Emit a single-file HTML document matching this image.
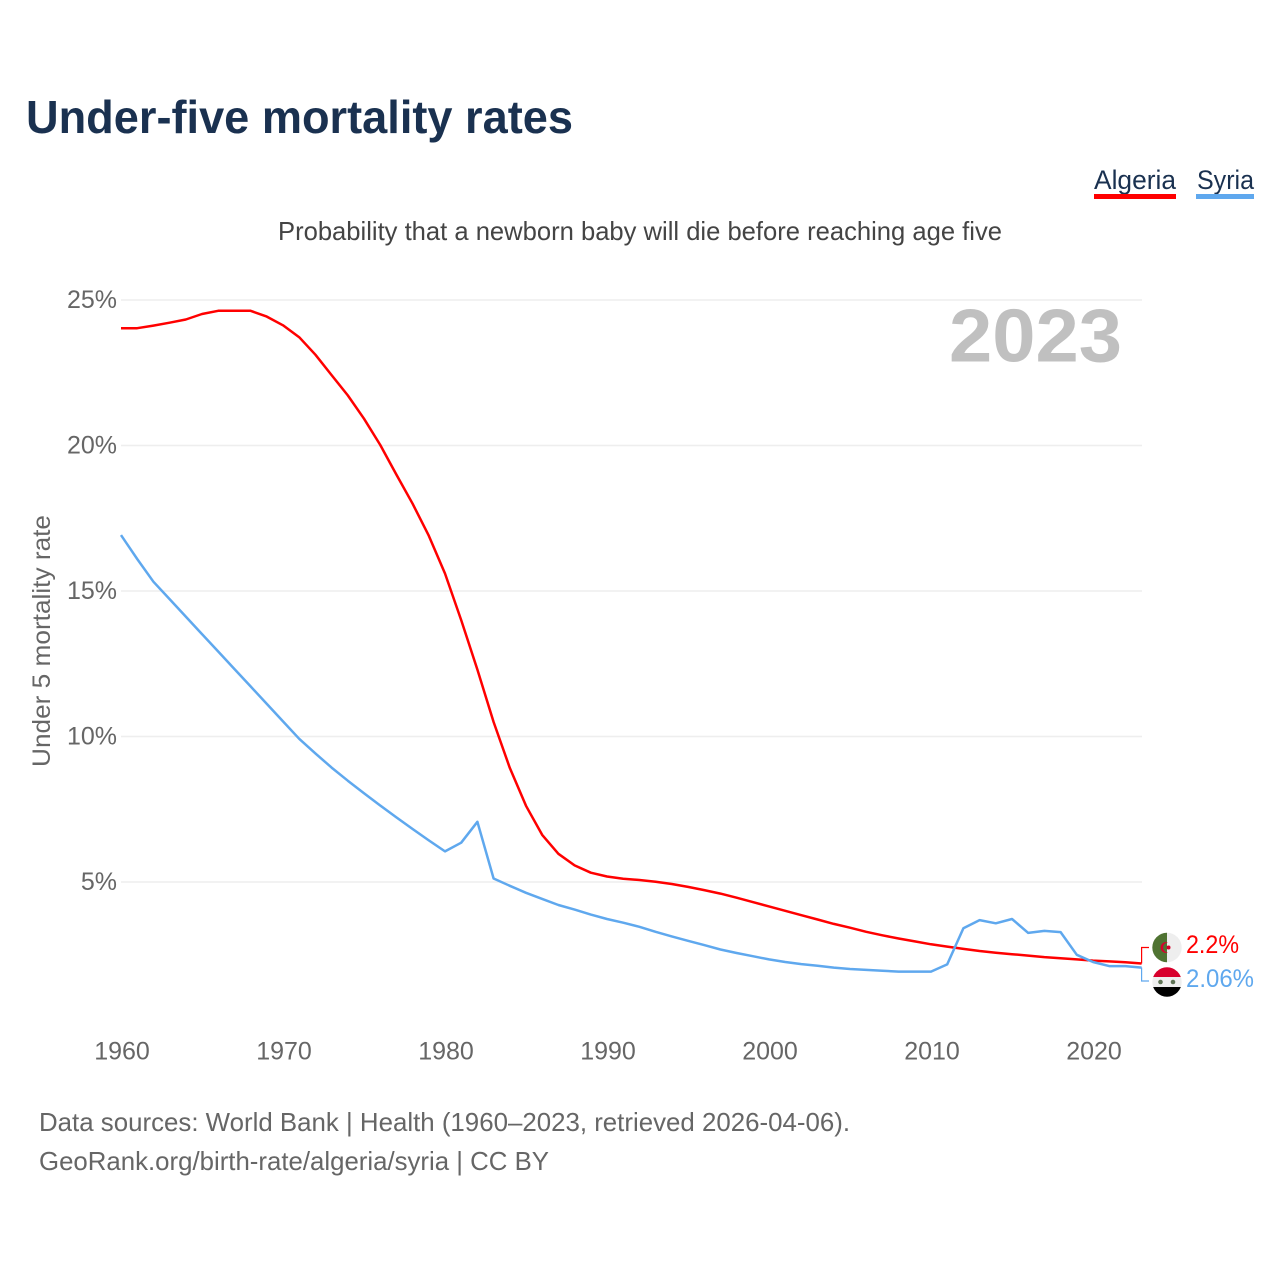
<!DOCTYPE html>
<html lang="en">
<head>
<meta charset="utf-8">
<title>Under-five mortality rates</title>
<style>
html,body{margin:0;padding:0;background:#fff}
svg{display:block}
text{font-family:"Liberation Sans",sans-serif}
</style>
</head>
<body>
<svg id="chart" xmlns="http://www.w3.org/2000/svg" width="1280" height="1280" viewBox="0 0 1280 1280">
  <rect width="1280" height="1280" fill="#fff"/>
  <text x="26" y="133" font-size="46" font-weight="700" fill="#1a3150" textLength="547" lengthAdjust="spacingAndGlyphs">Under-five mortality rates</text>
  <text x="1094" y="189" font-size="27" fill="#1a3150" textLength="82" lengthAdjust="spacingAndGlyphs">Algeria</text>
  <rect x="1094" y="194" width="82" height="5" fill="#ff0000"/>
  <text x="1197" y="189" font-size="27" fill="#1a3150" textLength="57" lengthAdjust="spacingAndGlyphs">Syria</text>
  <rect x="1196" y="194" width="58" height="5" fill="#5fa8ee"/>
  <text x="278" y="240" font-size="26" fill="#444" textLength="724" lengthAdjust="spacingAndGlyphs">Probability that a newborn baby will die before reaching age five</text>
  <g id="grid"></g>
  <text x="949" y="361.5" font-size="75" font-weight="700" fill="#c0c0c0" textLength="173" lengthAdjust="spacingAndGlyphs">2023</text>
  <g id="yticks"></g>
  <g id="xticks"></g>
  <text transform="translate(50,641) rotate(-90)" text-anchor="middle" font-size="25" fill="#666" textLength="252" lengthAdjust="spacingAndGlyphs">Under 5 mortality rate</text>
  <g id="series"></g>
  <g>
    <circle cx="1167" cy="947.5" r="14.7" fill="#eeeeee"/>
    <path d="M1167 932.8a14.7 14.7 0 0 0 0 29.4z" fill="#4f7332"/>
    <path d="M1168 942.5a5.4 5.4 0 1 0 0 10a4.4 4.4 0 1 1 0-10z" fill="#d8002c"/>
    <circle cx="1168.5" cy="947.5" r="2" fill="#d8002c"/>
  </g>
  <g>
    <clipPath id="syria-clip"><circle cx="1167" cy="982" r="14.7"/></clipPath>
    <g clip-path="url(#syria-clip)">
      <rect x="1152" y="967" width="30" height="10" fill="#d8002c"/>
      <rect x="1152" y="977" width="30" height="10" fill="#eeeeee"/>
      <rect x="1152" y="987" width="30" height="10" fill="#000"/>
      <circle cx="1160.5" cy="982" r="2.3" fill="#5f7355"/>
      <circle cx="1173" cy="982" r="2.3" fill="#5f7355"/>
    </g>
  </g>
  <text id="end-algeria" x="1186" y="953" font-size="25" fill="#ff0000" textLength="53" lengthAdjust="spacingAndGlyphs"></text>
  <text id="end-syria" x="1186" y="987" font-size="25" fill="#5fa8ee" textLength="68" lengthAdjust="spacingAndGlyphs"></text>
  <text x="39" y="1131" font-size="26" fill="#666" textLength="811" lengthAdjust="spacingAndGlyphs">Data sources: World Bank | Health (1960–2023, retrieved 2026-04-06).</text>
  <text x="39" y="1170" font-size="26" fill="#666" textLength="510" lengthAdjust="spacingAndGlyphs">GeoRank.org/birth-rate/algeria/syria | CC BY</text>
</svg>
<script>
const firstYear = 1960;
const algeriaValues = [24.03,24.03,24.12,24.22,24.33,24.52,24.63,24.63,24.63,24.43,24.13,23.72,23.12,22.42,21.72,20.92,20.02,19.0,18.0,16.9,15.6,14.0,12.3,10.5,8.92,7.62,6.62,5.97,5.57,5.32,5.19,5.11,5.07,5.01,4.93,4.83,4.72,4.6,4.46,4.31,4.16,4.01,3.86,3.71,3.56,3.43,3.29,3.17,3.06,2.96,2.86,2.78,2.7,2.63,2.57,2.52,2.47,2.42,2.38,2.34,2.3,2.27,2.24,2.2];
const syriaValues = [16.92,16.1,15.32,14.72,14.12,13.52,12.92,12.32,11.72,11.12,10.52,9.92,9.42,8.93,8.48,8.05,7.63,7.22,6.82,6.43,6.05,6.35,7.07,5.12,4.87,4.63,4.42,4.21,4.05,3.88,3.73,3.6,3.46,3.29,3.13,2.98,2.83,2.68,2.56,2.45,2.34,2.25,2.18,2.12,2.06,2.01,1.98,1.95,1.92,1.92,1.92,2.17,3.41,3.69,3.58,3.73,3.25,3.32,3.28,2.5,2.25,2.11,2.11,2.06];
const yTicks = [5,10,15,20,25];
const xTicks = [1960,1970,1980,1990,2000,2010,2020];

const NS = 'http://www.w3.org/2000/svg';
const xScale = function (year) { return 121 + (year - 1960) * 16.2; };
const yScale = function (v) { return 1027.5 - v * 29.1; };
function make(parent, tag, attrs, text) {
  const el = document.createElementNS(NS, tag);
  for (const k in attrs) el.setAttribute(k, attrs[k]);
  if (text !== undefined) el.textContent = text;
  parent.appendChild(el);
  return el;
}
const gridGroup = document.getElementById('grid');
const yGroup = document.getElementById('yticks');
const xGroup = document.getElementById('xticks');
const seriesGroup = document.getElementById('series');

yTicks.forEach(function (t) {
  const line = make(gridGroup, 'line', {x1: 121, x2: 1142, y1: yScale(t), y2: yScale(t), stroke: '#eeeeee', 'stroke-width': 1.6});
  
  
  const label = make(yGroup, 'text', {x: 117, y: yScale(t) + 8, 'text-anchor': 'end', 'font-size': 25, fill: '#666'}, t + '%');
  
  
});
xTicks.forEach(function (t) {
  const label = make(xGroup, 'text', {x: xScale(t) + 1, y: 1059.5, 'text-anchor': 'middle', 'font-size': 25, fill: '#666'}, String(t));
  
  
});
function linePoints(values) {
  return values.map(function (v, i) { return xScale(firstYear + i).toFixed(1) + ',' + yScale(v).toFixed(1); }).join(' ');
}
const algeriaLine = make(seriesGroup, 'polyline', {points: linePoints(algeriaValues), fill: 'none', stroke: '#ff0000', 'stroke-width': 2.5, 'stroke-linejoin': 'round'});


const syriaLine = make(seriesGroup, 'polyline', {points: linePoints(syriaValues), fill: 'none', stroke: '#5fa8ee', 'stroke-width': 2.5, 'stroke-linejoin': 'round'});



const lastAlgeria = algeriaValues[algeriaValues.length - 1];
const lastSyria = syriaValues[syriaValues.length - 1];
const endX = xScale(firstYear + algeriaValues.length - 1);
const connectorA = make(seriesGroup, 'polyline', {points: endX + ',' + yScale(lastAlgeria) + ' ' + endX + ',947.5 1149,947.5', fill: 'none', stroke: '#ff0000', 'stroke-width': 1.2});


const connectorS = make(seriesGroup, 'polyline', {points: endX + ',' + yScale(lastSyria) + ' ' + endX + ',981 1149,981', fill: 'none', stroke: '#5fa8ee', 'stroke-width': 1.2});


document.getElementById('end-algeria').textContent = lastAlgeria + '%';
document.getElementById('end-syria').textContent = lastSyria + '%';
</script>
</body>
</html>
